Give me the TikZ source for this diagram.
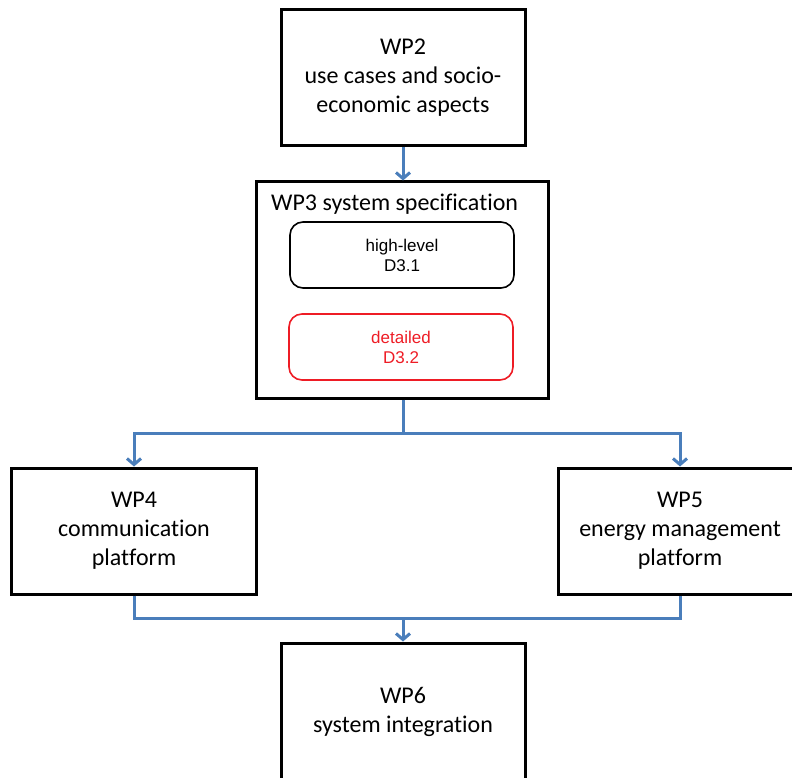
\documentclass[tikz,border=0pt]{standalone}
\usepackage{fontspec}
\setmainfont{Carlito}[Ligatures=NoCommon]
\newfontfamily\innerfont{Liberation Sans}
\usetikzlibrary{arrows.meta}
\definecolor{flowblue}{HTML}{4A7EBB}
\definecolor{detailred}{HTML}{EE1C25}
\begin{document}
\begin{tikzpicture}[x=1pt,y=-1pt,
  wpbox/.style={draw=black, line width=3pt, align=center, inner sep=0pt,
    font=\fontsize{24}{29}\selectfont},
  subbox/.style={draw=black, line width=1.6pt, rounded corners=13pt, align=center,
    minimum width=224pt, minimum height=66pt, inner sep=0pt,
    font=\innerfont\fontsize{17}{20}\selectfont},
  flow/.style={draw=flowblue, line width=3pt,
    -{Straight Barb[length=6pt,width=14pt,line width=3pt]}},
  link/.style={draw=flowblue, line width=3pt}]
\useasboundingbox (0,0) rectangle (792,778);
\clip (0,0) rectangle (792,778);

% work packages
\node[wpbox, minimum width=244pt, minimum height=136pt] (wp2) at (403,78)
  {WP2\\use cases and socio-\\economic aspects};
\node[wpbox, minimum width=292pt, minimum height=216pt] (wp3) at (402,290) {};
\node[anchor=base west, inner sep=0pt, font=\fontsize{24}{29}\selectfont]
  (wp3title) at (271,211) {WP3 system specification};
\node[subbox] (d31) at (402,255) {high-level\\D3.1};
\node[subbox, draw=detailred, text=detailred] (d32) at (401,347) {detailed\\D3.2};

\node[wpbox, minimum width=245pt, minimum height=126pt] (wp4) at (134,531)
  {WP4\\communication\\platform};
\node[wpbox, minimum width=244pt, minimum height=126pt] (wp5) at (680,531)
  {WP5\\energy management\\platform};
\node[wpbox, minimum width=244pt, minimum height=138pt] (wp6) at (403,712)
  {WP6\\system integration};

% connectors
\coordinate (split) at (403,433);
\coordinate (merge) at (403,618);
\draw[flow] (wp2.south) -- (wp2.south |- wp3.north);
\draw[link] (split |- wp3.south) -- (split);
\draw[flow] (split) -| (wp4.north);
\draw[flow] (split) -| (wp5.north);
\draw[link] (wp4.south) |- (merge) -| (wp5.south);
\draw[flow] (merge) -- (wp6.north);
\end{tikzpicture}
\end{document}
